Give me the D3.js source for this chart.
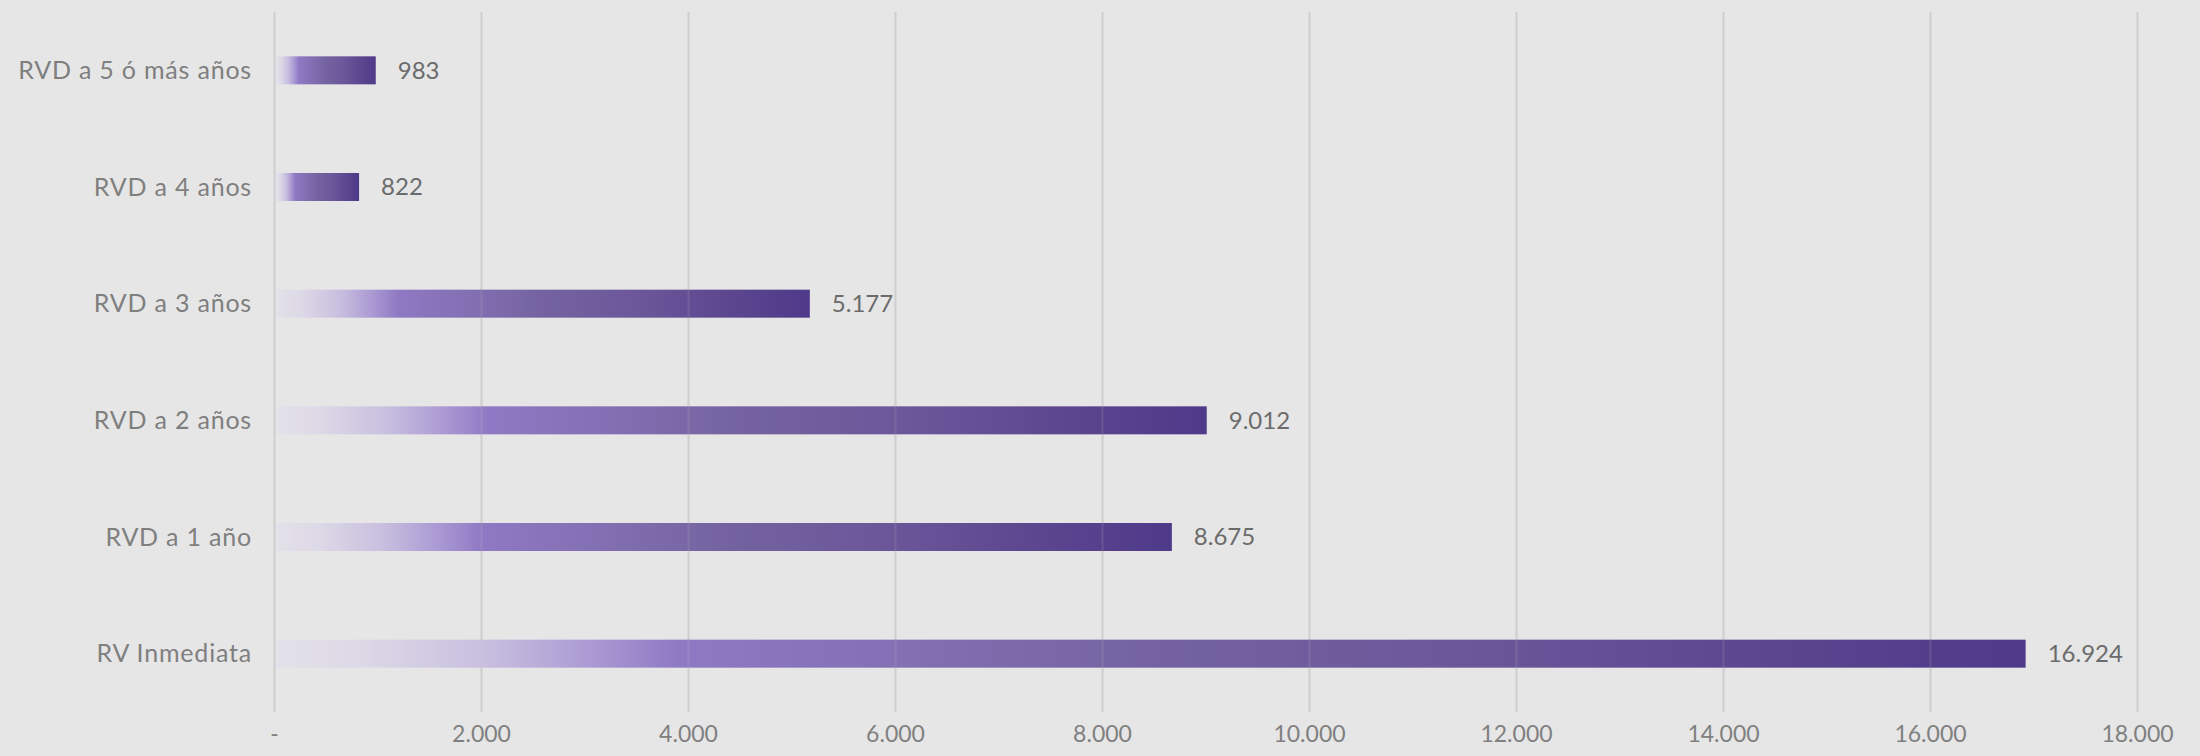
<!DOCTYPE html>
<html>
<head>
<meta charset="utf-8">
<script src="https://cdn.jsdelivr.net/npm/d3@7"></script>
<style>
  html, body { margin: 0; padding: 0; background: #e6e6e6; }
  svg { display: block; }
</style>
</head>
<body>
<div id="chart"></div>
<script>
const categories = ["RVD a 5 ó más años", "RVD a 4 años", "RVD a 3 años", "RVD a 2 años", "RVD a 1 año", "RV Inmediata"];
const values = [983, 822, 5177, 9012, 8675, 16924];
const tickValues = [0, 2000, 4000, 6000, 8000, 10000, 12000, 14000, 16000, 18000];
const tickLabels = ["-", "2.000", "4.000", "6.000", "8.000", "10.000", "12.000", "14.000", "16.000", "18.000"];

const W = 2200, H = 756;
const margin = { top: 12, right: 63, bottom: 44, left: 274 };
const FONT = "'Lato', 'Open Sans', sans-serif";

const svg = d3.select("#chart").append("svg")
  .attr("width", W).attr("height", H);

svg.append("rect").attr("width", W).attr("height", H).attr("fill", "#e6e6e6");

const defs = svg.append("defs");
const grad = defs.append("linearGradient")
  .attr("id", "barGrad")
  .attr("x1", "0").attr("y1", "0").attr("x2", "1").attr("y2", "0");
[
  [0.00, "#e3e1e9"],
  [0.05, "#dcd8e6"],
  [0.12, "#c8bfdf"],
  [0.18, "#ab9ad3"],
  [0.23, "#8f79c4"],
  [0.35, "#8470b4"],
  [0.50, "#7463a0"],
  [0.70, "#6a5599"],
  [0.85, "#5c468f"],
  [1.00, "#4f3a8a"]
].forEach(([o, c]) => grad.append("stop").attr("offset", o).attr("stop-color", c));

const x = d3.scaleLinear().domain([0, 18000]).range([margin.left, W - margin.right]);
const y = d3.scaleBand().domain(categories).range([margin.top, H - margin.bottom]).paddingInner(0.76).paddingOuter(0.38);

const xAxis = d3.axisBottom(x)
  .tickValues(tickValues)
  .tickFormat((d, i) => tickLabels[i])
  .tickSize(-(H - margin.top - margin.bottom))
  .tickPadding(14);

// gridlines + tick labels behind bars
const gx = svg.append("g")
  .attr("transform", `translate(0,${H - margin.bottom})`)
  .call(xAxis);
gx.select(".domain").remove();
gx.selectAll(".tick line").attr("stroke", "#d0d0d0").attr("stroke-width", 2);
gx.selectAll(".tick text")
  .attr("fill", "#808080")
  .style("font-family", FONT)
  .style("font-size", "23px");

// bars
svg.append("g").selectAll("rect")
  .data(values)
  .join("rect")
  .attr("x", x(0) + 2)
  .attr("y", (d, i) => y(categories[i]))
  .attr("width", d => x(d) - x(0) - 2)
  .attr("height", y.bandwidth())
  .attr("fill", "url(#barGrad)");

// faint gridline overlay visible through bars
const gx2 = svg.append("g")
  .attr("transform", `translate(0,${H - margin.bottom})`)
  .call(xAxis.tickFormat(""));
gx2.select(".domain").remove();
gx2.selectAll(".tick text").remove();
gx2.selectAll(".tick line").attr("stroke", "#c8c8c8").attr("stroke-width", 2).attr("stroke-opacity", 0.15);

// category labels
svg.append("g").selectAll("text")
  .data(categories)
  .join("text")
  .attr("x", x(0) - 22)
  .attr("y", d => y(d) + y.bandwidth() / 2)
  .attr("dy", "0.35em")
  .attr("text-anchor", "end")
  .attr("fill", "#7f7f7f")
  .style("font-family", FONT)
  .style("font-size", "25px")
  .style("letter-spacing", "0.8px")
  .text(d => d);

// value labels
const fmt = d3.formatLocale({ decimal: ",", thousands: ".", grouping: [3], currency: ["", ""] }).format(",d");
svg.append("g").selectAll("text")
  .data(values)
  .join("text")
  .attr("x", d => x(d) + 22)
  .attr("y", (d, i) => y(categories[i]) + y.bandwidth() / 2)
  .attr("dy", "0.35em")
  .attr("fill", "#6b6b6b")
  .style("font-family", FONT)
  .style("font-size", "24px")
  .text(d => fmt(d));
</script>
</body>
</html>
